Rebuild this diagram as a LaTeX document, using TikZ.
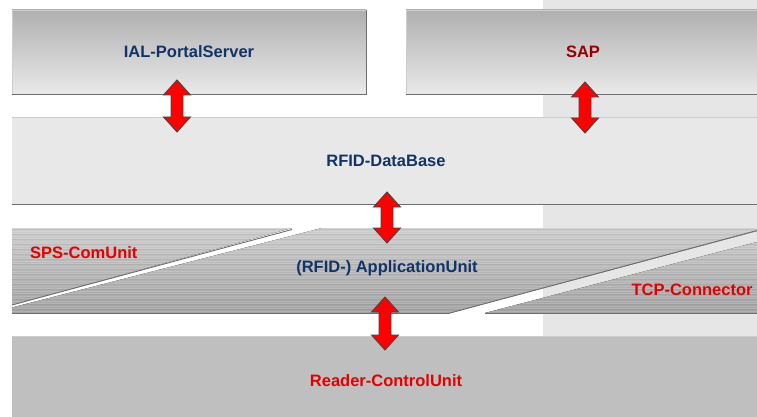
\documentclass[tikz,border=0pt]{standalone}
\usepackage{fontspec}
\setmainfont{Liberation Sans}
\usetikzlibrary{calc}
\definecolor{navy}{RGB}{16,52,104}
\definecolor{darkred}{RGB}{150,0,0}
\definecolor{brightred}{RGB}{228,0,0}
\definecolor{stripgray}{RGB}{230,230,230}
\definecolor{dbgray}{RGB}{232,232,232}
\definecolor{readergray}{RGB}{191,191,191}
\definecolor{edgedark}{RGB}{110,110,110}
\definecolor{edgelight}{RGB}{205,205,205}
\definecolor{arrowedge}{RGB}{70,70,70}
\definecolor{boxtop}{RGB}{176,176,176}
\definecolor{boxbottom}{RGB}{233,233,233}
\definecolor{bandtop}{RGB}{204,204,204}
\definecolor{bandbottom}{RGB}{162,162,162}
\tikzset{
  lbl/.style={font=\fontsize{16.5}{18}\selectfont\bfseries},
  topbox/.style={lbl, top color=boxtop, bottom color=boxbottom, draw=edgelight, line width=0.8pt,
                 minimum width=354pt, minimum height=84pt, inner sep=0pt},
  widebox/.style={lbl, draw=none, minimum width=748pt, inner sep=0pt},
  shadowline/.style={draw=edgedark, line width=0.8pt},
  blockarrow/.style={fill=red, draw=arrowedge, line width=0.9pt, line join=miter},
  diagline/.style={draw=edgedark, line width=0.9pt},
}
\newcommand\myblockarrow[2]{%
  \draw[blockarrow] (#1) -- ($(#1)+(13.5,15)$) -- ($(#1)+(6,15)$) -- ($(#2)+(6,-15)$)
    -- ($(#2)+(13.5,-15)$) -- (#2) -- ($(#2)+(-13.5,-15)$) -- ($(#2)+(-6,-15)$)
    -- ($(#1)+(-6,15)$) -- ($(#1)+(-13.5,15)$) -- cycle;}
\begin{document}
\begin{tikzpicture}[x=1pt,y=-1pt]
\useasboundingbox (0,0) rectangle (757,417);
\fill[white] (0,0) rectangle (757,417);
% background strip on the right
\fill[stripgray] (543,0) rectangle (757,417);

% top boxes
\node[topbox, text=navy] (ial) at (189,52) {IAL-PortalServer};
\node[topbox, text=darkred] (sap) at (583,52) {SAP};
\draw[shadowline] (ial.south west) -- (ial.south east) -- (ial.north east);
\draw[shadowline] (sap.south west) -- (sap.south east);

% database
\node[widebox, fill=dbgray, minimum height=86pt, text=navy] (db) at (386,161) {RFID-DataBase};
\draw[edgelight, line width=0.6pt] (db.north west) -- (db.north east);
\draw[shadowline] (db.south west) -- (db.south east);

% application band
\begin{scope}
  \clip (12,228) -- (292,228) -- (12,305) -- cycle
        (322,228) -- (757,228) -- (757,231) -- (450,313) -- (12,313) -- (12,307.5) -- cycle
        (485,313) -- (757,242) -- (757,313) -- cycle;
  \fill[top color=bandtop, bottom color=bandbottom] (12,228) rectangle (757,313);
  \foreach \yy in {228.5,231,...,313} {\draw[white, opacity=0.16, line width=0.8pt] (12,\yy) -- (757,\yy);}
  \foreach \yy in {229.8,234.8,...,313} {\draw[black, opacity=0.05, line width=1pt] (12,\yy) -- (757,\yy);}
\end{scope}
\coordinate (spsA) at (292,229.5);
\coordinate (spsB) at (12,305);
\coordinate (tcpA) at (757,230.5);
\coordinate (tcpB) at (450,313);
\coordinate (bandL) at (12,313);
\coordinate (bandR) at (757,313);
\coordinate (tcpC) at (485,313);
\draw[diagline] (spsA) -- (spsB);
\draw[diagline] (tcpA) -- (tcpB);
\draw[edgedark, line width=0.8pt] (bandL) -- (tcpB);
\draw[edgedark, line width=0.8pt] (tcpC) -- (bandR);
\node[lbl, text=navy] (app) at (387,268) {(RFID-) ApplicationUnit};
\node[lbl, text=brightred, anchor=west, inner sep=0pt] (sps) at (30,253) {SPS-ComUnit};
\node[lbl, text=brightred, inner sep=0pt] (tcp) at (692,290) {TCP-Connector};

% reader control unit
\node[widebox, fill=readergray, minimum height=84pt, text=brightred, text depth=0pt] (reader) at (386,379) {\raisebox{-3pt}{Reader-ControlUnit}};
\draw[edgelight, line width=0.8pt] (reader.north west) -- (reader.north east);

% arrows
\coordinate (a1t) at (177,80);  \coordinate (a1b) at (177,132);
\coordinate (a2t) at (585,82);  \coordinate (a2b) at (585,133);
\coordinate (a3t) at (387,192); \coordinate (a3b) at (387,243);
\coordinate (a4t) at (385,297); \coordinate (a4b) at (385,350);
\myblockarrow{a1t}{a1b}
\myblockarrow{a2t}{a2b}
\myblockarrow{a3t}{a3b}
\myblockarrow{a4t}{a4b}
\end{tikzpicture}
\end{document}
